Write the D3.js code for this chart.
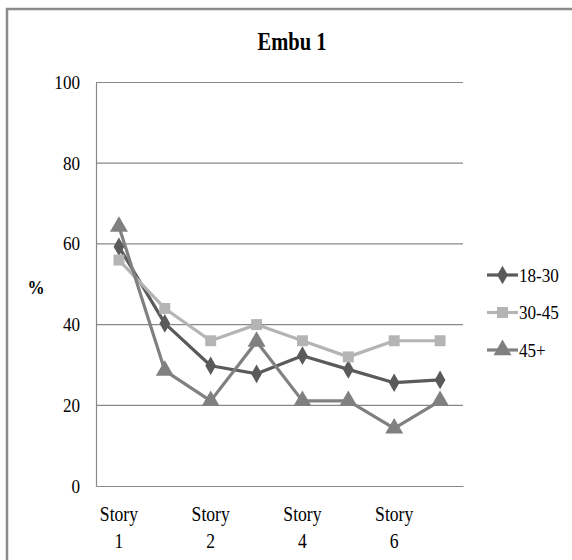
<!DOCTYPE html>
<html><head><meta charset="utf-8">
<script src="https://cdn.jsdelivr.net/npm/d3@7"></script>
<style>
body{margin:0;background:#fff;}
svg text{font-family:"Liberation Serif","Times New Roman","Tinos","DejaVu Serif","Noto Serif",serif !important;fill:#000;}
</style></head>
<body><svg id="c" width="572" height="560"></svg>
<script>
const categories = ["Story 1","Story 1b","Story 2","Story 3","Story 4","Story 5","Story 6","Story 7"];
const shownLabels = ["Story 1","Story 2","Story 4","Story 6"];
const seriesNames = ["18-30","30-45","45+"];
const s1830 = [59.3,40.3,29.8,27.8,32.3,28.9,25.6,26.3];
const s3045 = [56,44,36,40,36,32,36,36];
const s45p  = [64.3,28.6,21.1,35.8,21.1,21.1,14.3,21.1];
const yTicks = [0,20,40,60,80,100];

const colors = ["#5a5a5a","#b4b4b4","#808080"];
const symbols = [d3.symbolDiamond, d3.symbolSquare, d3.symbolTriangle];
const symSizes = [100, 120, 140];
const data = [s1830, s3045, s45p];

const svg = d3.select("#c");
// outer border
svg.append("path").attr("d","M7,575 L7,9 L580,9").attr("fill","none").attr("stroke","#8a8a8a").attr("stroke-width",2.5);

const L=96, R=463, T=82.5, B=486;
const x = d3.scaleBand().domain(categories).range([L,R]);
const y = d3.scaleLinear().domain([0,100]).range([B,T]);
const cx = c => x(c) + x.bandwidth()/2;

// gridlines
svg.append("g").selectAll("line").data(yTicks.filter(v=>v>0)).join("line")
  .attr("x1",L).attr("x2",R).attr("y1",d=>y(d)).attr("y2",d=>y(d))
  .attr("stroke","#888").attr("stroke-width",1.2);

// y axis
const ya = svg.append("g").attr("transform",`translate(${L},0)`)
  .call(d3.axisLeft(y).tickValues(yTicks).tickSize(0).tickPadding(0));
ya.attr("font-family",null);
ya.select(".domain").attr("stroke","#888").attr("stroke-width",1.2);
ya.selectAll("text").attr("x",0).attr("dy","0.32em").attr("text-anchor","end")
  .attr("transform","translate(-16,0) scale(0.9,1)")
  .style("font-size","19px").attr("fill","#000");

// x axis
const xa = svg.append("g").attr("transform",`translate(0,${B})`)
  .call(d3.axisBottom(x).tickValues(shownLabels).tickSize(0).tickFormat(""));
xa.attr("font-family",null);
xa.select(".domain").attr("stroke","#888").attr("stroke-width",1.2);
xa.selectAll(".tick").each(function(d){
  const parts = d.split(" ");
  const g = d3.select(this);
  g.select("text").remove();
  parts.forEach((p,i)=>{
    g.append("text").attr("text-anchor","middle")
     .attr("transform",`translate(0,${35+i*27}) scale(0.88,1)`)
     .style("font-size","20px").text(p);
  });
});

// lines
const line = d3.line().x((d,i)=>cx(categories[i])).y(d=>y(d));
data.forEach((s,k)=>{
  svg.append("path").datum(s).attr("d",line).attr("fill","none")
    .attr("stroke",colors[k]).attr("stroke-width",3.2).attr("stroke-linejoin","round");
});
data.forEach((s,k)=>{
  svg.append("g").selectAll("path").data(s).join("path")
    .attr("d",d3.symbol().type(symbols[k]).size(symSizes[k]))
    .attr("transform",(d,i)=>`translate(${cx(categories[i])},${y(d)})`)
    .attr("fill",colors[k]);
});

// title
svg.append("text").attr("text-anchor","middle").attr("transform","translate(292,50) scale(0.82,1)")
  .style("font-size","25px").style("font-weight","bold").text("Embu 1");
// y label
svg.append("text").attr("text-anchor","middle").attr("transform","translate(36,294) scale(0.9,1)")
  .style("font-size","19px").style("font-weight","bold").text("%");

// legend
const leg = svg.append("g");
seriesNames.forEach((n,k)=>{
  const ly = 275 + k*37.5;
  leg.append("line").attr("x1",487).attr("x2",518).attr("y1",ly).attr("y2",ly)
    .attr("stroke",colors[k]).attr("stroke-width",3.2);
  leg.append("path").attr("d",d3.symbol().type(symbols[k]).size(symSizes[k]))
    .attr("transform",`translate(502.5,${ly})`).attr("fill",colors[k]);
  leg.append("text").attr("transform",`translate(519,${ly}) scale(0.9,1)`).attr("dy","0.35em")
    .style("font-size","19px").text(n);
});
</script></body></html>
